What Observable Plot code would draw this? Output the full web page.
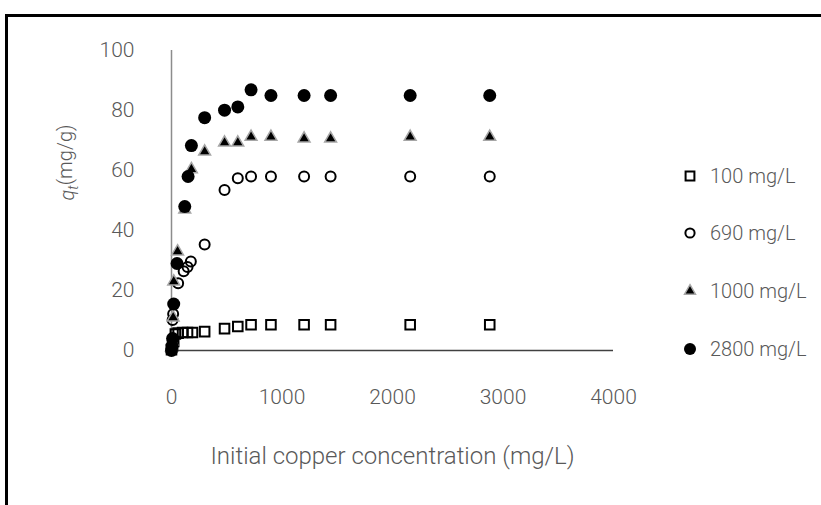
<!DOCTYPE html>
<html><head><meta charset="utf-8">
<script src="https://cdn.jsdelivr.net/npm/d3@7"></script>
<script src="https://cdn.jsdelivr.net/npm/@observablehq/plot@0.6"></script>
<style>
body{margin:0;background:#fff;}
#wrap{position:relative;width:821px;height:505px;overflow:hidden;background:#fff;font-family:Roboto,"Liberation Sans",sans-serif;font-weight:300;}
#frame{position:absolute;left:5px;top:14px;width:900px;height:600px;border-top:3px solid #000;border-left:3px solid #000;pointer-events:none;}
#chart{position:absolute;left:0;top:0;}
#legend{position:absolute;left:680px;top:0;}
.item{position:absolute;left:0;height:24px;display:flex;align-items:center;white-space:nowrap;color:#595959;font-size:20px;}
.item svg{width:20px;height:20px;margin-right:10px;}
</style></head><body>
<div id="wrap"><div id="chart"></div><div id="legend"></div><div id="frame"></div></div>
<script>
// ---- data ----
const seriesNames = ["100 mg/L", "690 mg/L", "1000 mg/L", "2800 mg/L"];
const t100 = [0, 10, 20, 35, 60, 100, 145, 190, 300, 480, 600, 720, 900, 1200, 1440, 2160, 2880];
const q100 = [0.3, 1.5, 3, 5.5, 5.8, 6.0, 6.0, 6.0, 6.3, 7.3, 8.0, 8.6, 8.6, 8.6, 8.6, 8.6, 8.6];
const t690 = [0, 10, 15, 60, 110, 145, 175, 300, 480, 600, 720, 900, 1200, 1440, 2160, 2880];
const q690 = [0.5, 10.2, 12.2, 22.4, 26.4, 27.8, 29.7, 35.3, 53.5, 57.4, 58, 58, 58, 58, 58, 58];
const t1000 = [0, 5, 15, 20, 55, 120, 180, 300, 480, 600, 720, 900, 1200, 1440, 2160, 2880];
const q1000 = [1, 3, 11, 23, 33, 47, 60.4, 66.3, 69.3, 69.3, 71.2, 71.2, 70.6, 70.6, 71.2, 71.2];
const t2800 = [0, 5, 10, 20, 50, 120, 150, 180, 300, 480, 600, 720, 900, 1200, 1440, 2160, 2880];
const q2800 = [0, 1.5, 4, 15.5, 29, 48, 58, 68.3, 77.6, 80.1, 81.2, 86.9, 85, 85, 85, 85, 85];
const xTicks = [0, 1000, 2000, 3000, 4000];
const yTicks = [0, 20, 40, 60, 80, 100];
const xTitle = "Initial copper concentration (mg/L)";
const yTitle = "qt(mg/g)";

// ---- build tables ----
const rows = (t, q) => t.map((v, i) => ({t: v, q: q[i]}));
const d100 = rows(t100, q100), d690 = rows(t690, q690), d1000 = rows(t1000, q1000), d2800 = rows(t2800, q2800);

const styles = [
  {symbol: "square", r: 5.4, fill: "none", stroke: "#000", strokeWidth: 2},
  {symbol: "circle", r: 5.0, fill: "none", stroke: "#000", strokeWidth: 2},
  {symbol: "triangle", r: 4.4, fill: "#000", stroke: "#a6a6a6", strokeWidth: 1.5},
  {symbol: "circle", r: 6.5, fill: "#000", stroke: "none", strokeWidth: 0}
];
const datasets = [d100, d690, d1000, d2800];

const font = "Roboto, 'Liberation Sans', sans-serif";
const plot = Plot.plot({
  width: 821, height: 505,
  marginLeft: 171, marginRight: 208, marginTop: 50, marginBottom: 155,
  style: {fontFamily: font, fontWeight: 300, background: "transparent", color: "#595959"},
  x: {domain: [0, 4000]},
  y: {domain: [0, 100]},
  marks: [
    Plot.ruleY([0], {stroke: "#404040", strokeWidth: 1.3}),
    Plot.ruleX([0], {stroke: "#8c8c8c", strokeWidth: 1.5}),
    Plot.axisX({ticks: xTicks, tickFormat: d => String(d), tickSize: 0, tickPadding: 39, fontSize: 21, fill: "#595959", label: null}),
    Plot.axisY({ticks: yTicks, tickFormat: d => String(d), tickSize: 0, tickPadding: 37, fontSize: 21, fill: "#595959", label: null}),
    ...datasets.map((d, i) => Plot.dot(d, {x: "t", y: "q", ...styles[i]})),
    Plot.text([xTitle], {frameAnchor: "bottom", dy: 113, fontSize: 24, fill: "#595959"}),
    Plot.text([yTitle], {frameAnchor: "left", dx: -104, rotate: -90, fontSize: 20, fill: "#595959"})
  ]
});
document.getElementById("chart").appendChild(plot);

// rich y title: italic q with subscript t
d3.select(plot).selectAll("text").filter(function(){ return this.textContent === yTitle; })
  .each(function(){
    const el = d3.select(this);
    el.text(null);
    el.append("tspan").attr("font-style", "italic").text("q");
    el.append("tspan").attr("font-style", "italic").attr("font-size", "14px").attr("dy", "0.3em").text("t");
    el.append("tspan").attr("dy", "-0.3em").text("(mg/g)");
  });

// legend
const legendY = [176, 233, 291, 349];
const leg = d3.select("#legend");
seriesNames.forEach((name, i) => {
  const it = leg.append("div").attr("class", "item").style("top", (legendY[i] - 12) + "px");
  const s = it.append("svg").attr("viewBox", "-10 -10 20 20");
  const st = styles[i];
  s.append("path")
    .attr("d", d3.symbol(st.symbol === "square" ? d3.symbolSquare : st.symbol === "triangle" ? d3.symbolTriangle : d3.symbolCircle, Math.PI * st.r * st.r * 0.85)())
    .attr("fill", st.fill).attr("stroke", st.stroke).attr("stroke-width", st.strokeWidth);
  it.append("span").text(name);
});
</script>
</body></html>
